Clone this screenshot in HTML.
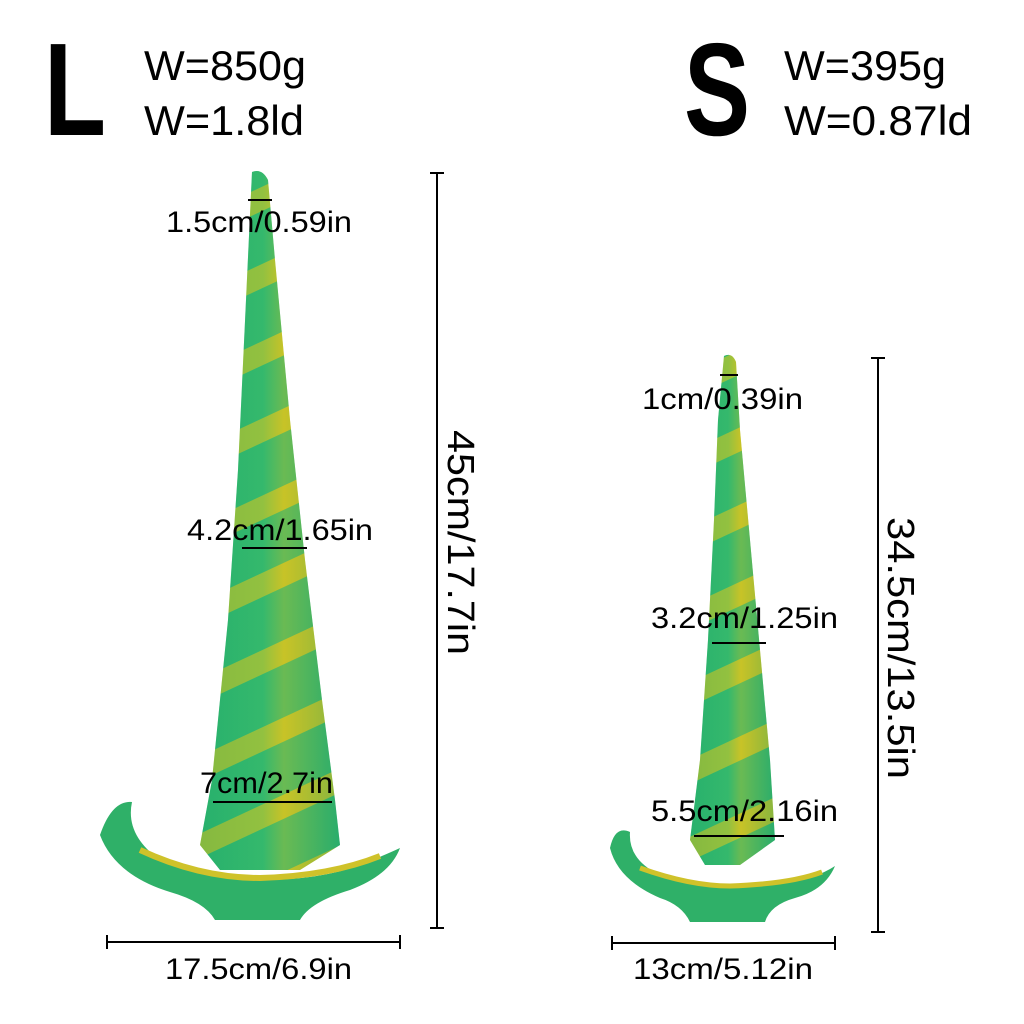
<!DOCTYPE html>
<html><head><meta charset="utf-8"><style>
html,body{margin:0;padding:0;background:#fff;}
svg{display:block;}
text{font-family:"Liberation Sans",sans-serif;fill:#000;}
</style></head><body>
<svg width="1024" height="1024" viewBox="0 0 1024 1024" xmlns="http://www.w3.org/2000/svg">
<defs>
<linearGradient id="g" x1="0" y1="0" x2="1" y2="0">
<stop offset="0" stop-color="#1aa86a"/><stop offset="0.45" stop-color="#3fbf6a"/><stop offset="0.6" stop-color="#d8c521"/><stop offset="1" stop-color="#1f9e68"/>
</linearGradient>
<pattern id="st" width="40" height="70" patternUnits="userSpaceOnUse" patternTransform="rotate(-25)">
<rect width="40" height="70" fill="#2fb56e"/><rect y="0" width="40" height="22" fill="#d9c51f" opacity="0.85"/>
</pattern>
</defs>
<path d="M252,172 Q262,168 268,180 L275,260 L290,420 L305,560 L322,700 L335,800 L340,845 L300,870 L220,870 L200,845 L212,780 L228,620 L238,470 L246,300 Z" fill="url(#st)"/>
<path d="M252,172 Q262,168 268,180 L275,260 L290,420 L305,560 L322,700 L335,800 L340,845 L300,870 L220,870 L200,845 L212,780 L228,620 L238,470 L246,300 Z" fill="url(#g)" opacity="0.35"/>
<path d="M100,835 Q112,800 132,802 Q125,835 160,860 Q220,880 260,880 Q320,880 360,865 Q385,855 400,848 Q390,875 350,890 Q310,902 300,920 L215,920 Q205,902 170,892 Q115,875 100,835 Z" fill="#2fb068"/>
<path d="M140,850 Q200,878 260,878 Q330,876 380,856" stroke="#cfc22a" stroke-width="6" fill="none"/>
<path d="M724,356 Q732,352 736,362 L740,430 L750,540 L760,650 L770,760 L775,840 L740,865 L705,865 L690,840 L700,760 L708,640 L714,520 L718,420 Z" fill="url(#st)"/>
<path d="M724,356 Q732,352 736,362 L740,430 L750,540 L760,650 L770,760 L775,840 L740,865 L705,865 L690,840 L700,760 L708,640 L714,520 L718,420 Z" fill="url(#g)" opacity="0.35"/>
<path d="M610,848 Q615,825 630,832 Q628,860 660,875 Q705,888 730,888 Q780,886 810,878 Q826,872 835,866 Q825,890 795,898 Q770,905 765,922 L690,922 Q682,905 660,898 Q618,880 610,848 Z" fill="#2fb068"/>
<path d="M640,868 Q690,886 730,886 Q790,884 822,872" stroke="#cfc22a" stroke-width="5" fill="none"/>
<text x="44" y="135" font-size="132" font-weight="bold" textLength="62" lengthAdjust="spacingAndGlyphs">L</text>
<text x="144" y="80" font-size="42" textLength="162" lengthAdjust="spacingAndGlyphs">W=850g</text>
<text x="144" y="135" font-size="42" textLength="160" lengthAdjust="spacingAndGlyphs">W=1.8ld</text>
<text x="684" y="135" font-size="132" font-weight="bold" textLength="66" lengthAdjust="spacingAndGlyphs">S</text>
<text x="784" y="80" font-size="42" textLength="162" lengthAdjust="spacingAndGlyphs">W=395g</text>
<text x="784" y="135" font-size="42" textLength="188" lengthAdjust="spacingAndGlyphs">W=0.87ld</text>
<g stroke="#000" stroke-width="2">
<line x1="437" y1="173" x2="437" y2="928"/><line x1="430" y1="173" x2="444" y2="173"/><line x1="430" y1="928" x2="444" y2="928"/>
<line x1="107" y1="942" x2="400" y2="942"/><line x1="107" y1="935" x2="107" y2="949"/><line x1="400" y1="935" x2="400" y2="949"/>
<line x1="248" y1="200" x2="272" y2="200"/>
<line x1="242" y1="548" x2="307" y2="548"/>
<line x1="213" y1="802" x2="332" y2="802"/>
<line x1="878" y1="358" x2="878" y2="932"/><line x1="871" y1="358" x2="885" y2="358"/><line x1="871" y1="932" x2="885" y2="932"/>
<line x1="612" y1="943" x2="835" y2="943"/><line x1="612" y1="936" x2="612" y2="950"/><line x1="835" y1="936" x2="835" y2="950"/>
<line x1="720" y1="375" x2="738" y2="375"/>
<line x1="712" y1="643" x2="766" y2="643"/>
<line x1="694" y1="836" x2="784" y2="836"/>
</g>
<g font-size="30">
<text x="166" y="232" textLength="186" lengthAdjust="spacingAndGlyphs">1.5cm/0.59in</text>
<text x="187" y="540" textLength="186" lengthAdjust="spacingAndGlyphs">4.2cm/1.65in</text>
<text x="200" y="793" textLength="133" lengthAdjust="spacingAndGlyphs">7cm/2.7in</text>
<text x="165" y="979" textLength="187" lengthAdjust="spacingAndGlyphs">17.5cm/6.9in</text>
<text x="642" y="409" textLength="161" lengthAdjust="spacingAndGlyphs">1cm/0.39in</text>
<text x="651" y="628" textLength="187" lengthAdjust="spacingAndGlyphs">3.2cm/1.25in</text>
<text x="651" y="821" textLength="187" lengthAdjust="spacingAndGlyphs">5.5cm/2.16in</text>
<text x="633" y="979" textLength="180" lengthAdjust="spacingAndGlyphs">13cm/5.12in</text>
</g>
<text transform="translate(448,430) rotate(90)" font-size="38" textLength="225" lengthAdjust="spacingAndGlyphs">45cm/17.7in</text>
<text transform="translate(888,517) rotate(90)" font-size="38" textLength="262" lengthAdjust="spacingAndGlyphs">34.5cm/13.5in</text>
</svg>
</body></html>
